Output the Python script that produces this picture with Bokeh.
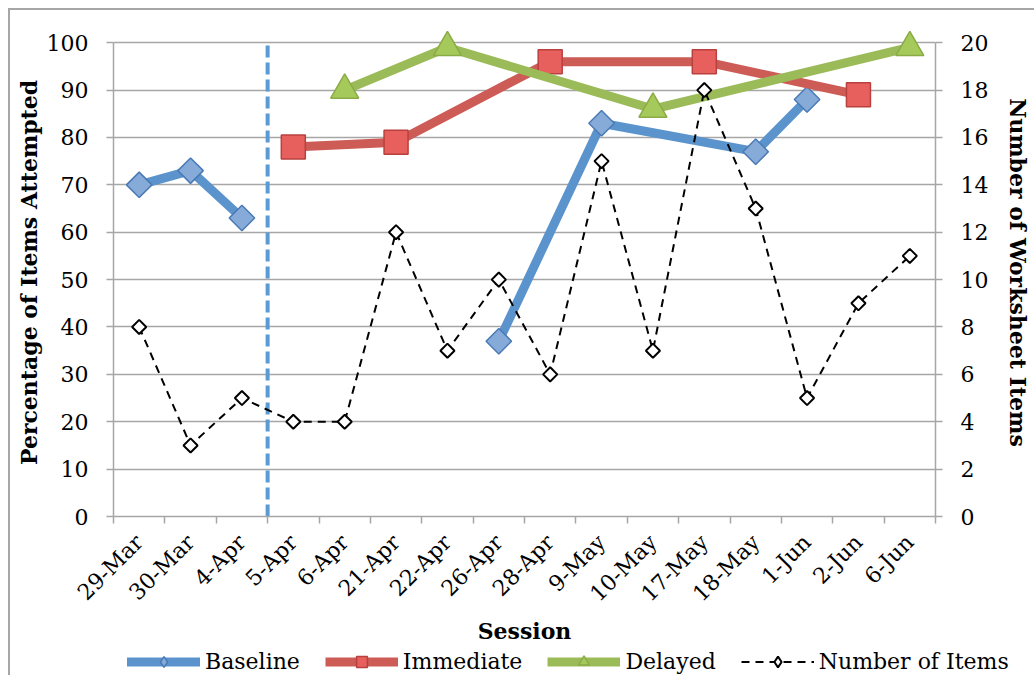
from math import pi, nan
from bokeh.plotting import figure
from bokeh.layouts import column
from bokeh.models import Range1d, LinearAxis, FixedTicker, Legend, LegendItem
from bokeh.embed import file_html
from bokeh.resources import INLINE

# ---------------- data ----------------
sessions = ["29-Mar", "30-Mar", "4-Apr", "5-Apr", "6-Apr", "21-Apr", "22-Apr", "26-Apr",
            "28-Apr", "9-May", "10-May", "17-May", "18-May", "1-Jun", "2-Jun", "6-Jun"]
baseline = [70, 73, 63, None, None, None, None, 37, None, 83, None, None, 77, 88, None, None]
immediate = [None, None, None, 78, None, 79, None, None, 96, None, None, 96, None, None, 89, None]
delayed = [None, None, None, None, 90, None, 99, None, None, None, 86, None, None, None, None, 99]
num_items = [8, 3, 5, 4, 4, 12, 7, 10, 6, 15, 7, 18, 13, 5, 9, 11]
phase_change = "5-Apr"
pct_ticks = list(range(0, 101, 10))
item_ticks = list(range(0, 21, 2))

# ---------------- styling ----------------
FONT = "DejaVu Serif"
GRAY = "#a6a6a6"
HEADROOM = 1.03  # room above the top gridline so markers there are not cut

STYLE = {
    "Baseline": dict(line=dict(line_color="#5b93cd", line_width=9, line_join="round", line_cap="round"),
                     marker=dict(marker="square", angle=pi / 4, size=18, fill_color="#86abd9",
                                 line_color="#4a7ab5", line_width=1.5)),
    "Immediate": dict(line=dict(line_color="#cd5b56", line_width=9, line_join="round"),
                      marker=dict(marker="square", size=24, fill_color="#e8605d",
                                  line_color="#b8403e", line_width=1.5)),
    "Delayed": dict(line=dict(line_color="#9bbb59", line_width=9, line_join="round"),
                    marker=dict(marker="triangle", size=28, fill_color="#a6c95b",
                                line_color="#8aab45", line_width=1.5)),
    "Number of Items": dict(line=dict(line_color="black", line_width=2, line_dash="8 6"),
                            marker=dict(marker="square", angle=pi / 4, size=10, fill_color="white",
                                        line_color="black", line_width=2)),
}

centers = [i + 0.5 for i in range(len(sessions))]
bounds = list(range(len(sessions) + 1))
pos = dict(zip(sessions, centers))
phase_x = sessions.index(phase_change)


def points(vals, split_at=None):
    xs, ys = [], []
    for i, (s, v) in enumerate(zip(sessions, vals)):
        if v is None:
            continue
        if split_at is not None and xs and i >= split_at and xs[-1] == xs[-1] and xs[-1] < split_at:
            xs.append(nan)
            ys.append(nan)
        xs.append(pos[s])
        ys.append(v)
    return xs, ys


def style_axis(ax, label_size="22px"):
    ax.axis_line_color = GRAY
    ax.axis_line_width = 1.5
    ax.major_tick_line_color = GRAY
    ax.major_tick_line_width = 1.5
    ax.minor_tick_line_color = GRAY
    ax.minor_tick_line_width = 1.5
    ax.major_tick_in = 0
    ax.minor_tick_in = 0
    ax.major_label_text_font = FONT
    ax.major_label_text_font_size = label_size
    ax.major_label_text_color = "black"
    ax.axis_label_text_font = FONT
    ax.axis_label_text_font_size = "22px"
    ax.axis_label_text_font_style = "bold"
    ax.axis_label_text_color = "black"


W = 1024
p = figure(width=W, height=638,
           x_range=Range1d(0, len(sessions)),
           y_range=Range1d(pct_ticks[0], pct_ticks[-1] * HEADROOM),
           output_backend="svg", toolbar_location=None,
           min_border_left=103, min_border_right=94, min_border_top=18, min_border_bottom=132)
p.outline_line_color = None
p.extra_y_ranges = {"items": Range1d(item_ticks[0], item_ticks[-1] * HEADROOM)}

# ---- x axis ----
xa = p.xaxis[0]
style_axis(xa)
xa.ticker = FixedTicker(ticks=centers, minor_ticks=bounds)
xa.major_label_overrides = {c: s for c, s in zip(centers, sessions)}
xa.major_label_orientation = pi / 4
xa.major_tick_out = 0
xa.minor_tick_out = 7
xa.major_label_standoff = 15
xa.axis_label = "Session"
xa.axis_label_standoff = 0
p.xgrid.visible = False

# ---- left y axis ----
ya = p.yaxis[0]
style_axis(ya)
ya.ticker = FixedTicker(ticks=pct_ticks)
ya.bounds = (pct_ticks[0], pct_ticks[-1])
ya.major_tick_out = 7
ya.minor_tick_out = 0
ya.major_label_standoff = 18
ya.axis_label = "Percentage of Items Attempted"
ya.axis_label_standoff = 2
p.ygrid.ticker = FixedTicker(ticks=pct_ticks)
p.ygrid.grid_line_color = GRAY
p.ygrid.grid_line_width = 1.5

# ---- right y axis ----
ra = LinearAxis(y_range_name="items", ticker=FixedTicker(ticks=item_ticks))
style_axis(ra)
ra.bounds = (item_ticks[0], item_ticks[-1])
ra.major_tick_out = 7
ra.minor_tick_out = 0
ra.major_label_standoff = 18
ra.axis_label = "Number of Worksheet Items"
ra.axis_label_orientation = "vertical"
ra.axis_label_standoff = 14
p.add_layout(ra, "right")

# ---- phase change line ----
p.segment(x0=[phase_x], y0=[pct_ticks[0]], x1=[phase_x], y1=[pct_ticks[-1]],
          line_color="#5b9bd5", line_width=4, line_dash="12 5")

# ---- series ----
series_xy = {
    "Baseline": (points(baseline, split_at=phase_x), points(baseline), None),
    "Immediate": (points(immediate), points(immediate), None),
    "Delayed": (points(delayed), points(delayed), None),
    "Number of Items": (points(num_items), points(num_items), "items"),
}
for name, (line_xy, pt_xy, yr) in series_xy.items():
    extra = {"y_range_name": yr} if yr else {}
    p.line(*line_xy, **STYLE[name]["line"], **extra)
    p.scatter(*pt_xy, **STYLE[name]["marker"], **extra)

# ---- legend strip (separate figure so it is not clipped by the plot frame) ----
# its ranges lie away from the data, so only the legend samples are seen
lp = figure(width=W, height=27, x_range=Range1d(-2, -1), y_range=Range1d(-2, -1),
            output_backend="svg", toolbar_location=None,
            x_axis_location=None, y_axis_location=None, min_border=0)
lp.outline_line_color = None
lp.grid.visible = False
for fig in (p, lp):
    if "frame_align" in fig.properties():
        fig.frame_align = False
items = []
for name, (line_xy, pt_xy, yr) in series_xy.items():
    mk = dict(STYLE[name]["marker"])
    if mk.pop("angle", None) is not None:
        mk["marker"] = "diamond"
    r1 = lp.line(*pt_xy, **STYLE[name]["line"])
    r2 = lp.scatter(*pt_xy, **mk)
    items.append(LegendItem(label=name, renderers=[r1, r2]))
legend = Legend(items=items, orientation="horizontal", location=(117, 0))
legend.label_text_font = FONT
legend.label_text_font_size = "22px"
legend.label_text_color = "black"
legend.glyph_width = 73
legend.glyph_height = 27
legend.label_standoff = 5
legend.spacing = 25
legend.padding = 0
legend.margin = 0
legend.border_line_color = None
legend.background_fill_alpha = 0
lp.add_layout(legend, "center")

layout = column(p, lp, spacing=0)
layout.styles = {"margin": "8px 0 0 8px", "border-top": "2px solid " + GRAY,
                 "border-left": "2px solid " + GRAY}

open("out.html", "w").write(file_html(layout, INLINE))
